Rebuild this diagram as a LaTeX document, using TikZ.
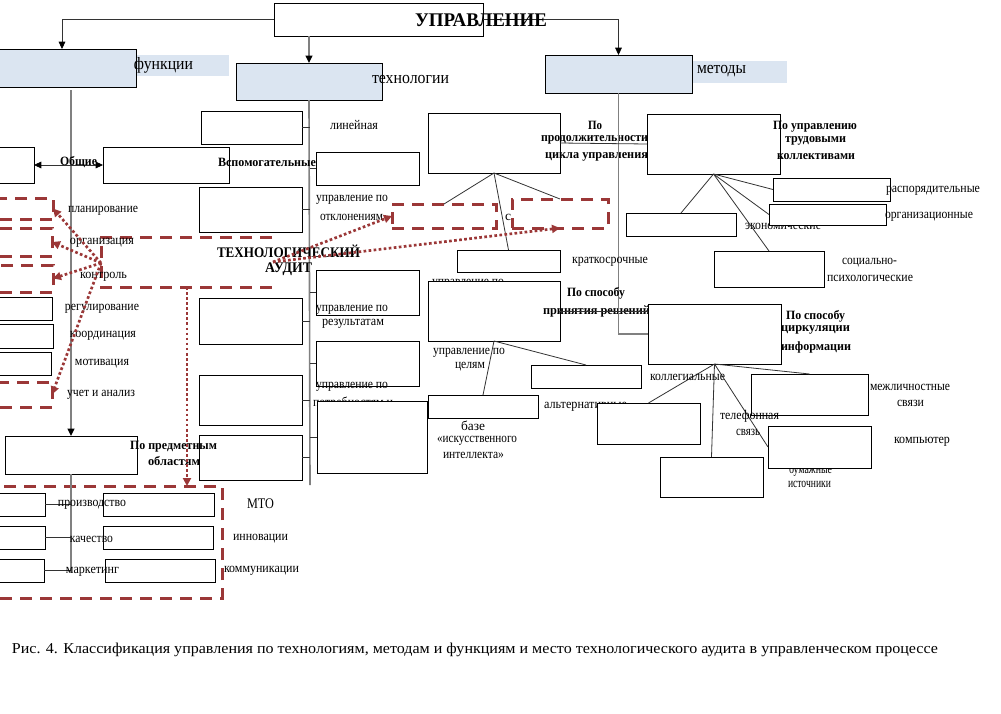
\documentclass[tikz,border=0pt]{standalone}
\usepackage{fontspec}
\setmainfont{Liberation Serif}
\usetikzlibrary{arrows.meta}
\newlength\pxu \setlength\pxu{0.75pt}
\newlength\tmpw
\definecolor{lblue}{RGB}{219,229,241}
\definecolor{dred}{RGB}{155,55,55}
\definecolor{trk}{RGB}{128,128,128}
\newcounter{tn}
% text: [opts]{x1}{x2}{y}{text}
\newcommand\tx[5][]{\setlength{\tmpw}{#3\pxu}\addtolength{\tmpw}{-#2\pxu}%
  \stepcounter{tn}\node[txt,#1] (t\number\value{tn}) at ({(#2+#3)/2},#4) {\resizebox{\tmpw}{\height}{#5}};}
% box: [opts]{name}{x1}{y1}{x2}{y2}
\newcommand\bx[6][]{\node[box,#1,minimum width={(#5-#3)*0.75pt},minimum height={(#6-#4)*0.75pt}] (#2) at ({(#3+#5)/2},{(#4+#6)/2}) {};}
\begin{document}
\begin{tikzpicture}[x=0.75pt,y=-0.75pt,
  box/.style={draw=black,line width=0.75pt,fill=white,inner sep=0pt,outer sep=0pt},
  bbox/.style={fill=lblue},
  dbox/.style={draw=dred,fill=none,line width=2.25pt,dash pattern=on 9pt off 6pt},
  dline/.style={draw=dred,line width=2.25pt,dash pattern=on 9pt off 6pt},
  dotar/.style={draw=dred,line width=2pt,dash pattern=on 2pt off 1.8pt,-{Triangle[length=6pt,width=6pt]}},
  txt/.style={inner sep=0pt,outer sep=0pt,font=\fontsize{10pt}{12pt}\selectfont},
  btxt/.style={font=\fontsize{9.5pt}{11pt}\selectfont\bfseries},
  ta/.style={font=\fontsize{11pt}{13pt}\selectfont\bfseries},
  big/.style={font=\fontsize{14.5pt}{16pt}\selectfont\bfseries},
  mid/.style={font=\fontsize{13pt}{15pt}\selectfont},
  mto/.style={font=\fontsize{11pt}{13pt}\selectfont},
  captxt/.style={font=\fontsize{11.3pt}{13pt}\selectfont},
  trunk/.style={draw=trk,line width=1.2pt},
  con/.style={draw=black!80,line width=0.6pt},
  arr/.style={-{Triangle[length=5.5pt,width=5pt,color=black]}}
]
\useasboundingbox (0,0) rectangle (1001,714);
\clip (0,0) rectangle (1001,714);
\fill[white] (0,0) rectangle (1001,714);

% ---------- boxes (first group, needed for connectors) ----------
\bx{upr}{274}{3}{483}{36}
\bx[bbox]{func}{-12}{49}{136}{87}
\bx[bbox]{tech}{236}{63}{382}{100}
\bx[bbox]{metody}{545}{55}{692}{93}
\fill[lblue] (136,55) rectangle (229,76);
\fill[lblue] (692,61) rectangle (787,83);
\draw[line width=0.75pt] (136,49) -- (136,87);
\draw[line width=0.75pt] (692,55) -- (692,93);

% ---------- connectors ----------
\draw[con,arr] (upr.west) -| (func.north);
\draw[trunk,arr] (upr.south -| tech.north) -- (tech.north);
\draw[con,arr] (upr.east) -| (metody.north);

\coordinate (ftop) at (71,90);
\coordinate (ttend) at (310,485);

% ---------- remaining boxes ----------
\bx{obsch}{-12}{147}{34}{183}
\bx{vspom}{103}{147}{229}{183}
\bx{f1}{-12}{297}{52}{320}
\bx{f2}{-12}{324}{53}{348}
\bx{f3}{-12}{352}{51}{375}
\bx{predm}{5}{436}{137}{474}
\bx{p1}{-12}{493}{45}{516}
\bx{p2}{-12}{526}{45}{549}
\bx{p3}{-12}{559}{44}{582}
\bx{p4}{103}{493}{214}{516}
\bx{p5}{103}{526}{213}{549}
\bx{p6}{105}{559}{215}{582}

\bx{T1}{201}{111}{302}{144}
\bx{T2}{199}{187}{302}{232}
\bx{T3}{199}{298}{302}{344}
\bx{T4}{199}{375}{302}{425}
\bx{T5}{199}{435}{302}{480}
\bx{T6}{316}{152}{419}{185}
\bx{T7}{316}{270}{419}{315}
\bx{T8}{316}{341}{419}{386}

\bx{dur}{428}{113}{560}{173}
\bx{kr}{457}{250}{560}{272}
\bx{alt}{531}{365}{641}{388}
\bx{eko}{626}{213}{736}{236}
\bx{rasp}{773}{178}{890}{201}
\bx{soc}{714}{251}{824}{287}
\bx{mezh}{751}{374}{868}{415}
\bx{bum}{660}{457}{763}{497}

% dashed rectangles
\bx[dbox]{R1}{-20}{198}{53}{219}
\bx[dbox]{R2}{-20}{228}{52}{256}
\bx[dbox]{R3}{-20}{265}{53}{292}
\bx[dbox]{R4}{-20}{382}{52}{407}
\bx[dbox]{R5}{392}{204}{496}{228}
\bx[dbox]{R6}{512}{199}{608}{228}
\bx[dbox]{BR}{-20}{486}{222}{598}
\draw[dline] (272,237) -- (101,237) -- (101,287) -- (272,287);
\coordinate (taL) at (101,263);
\coordinate (taR) at (273,262);
\coordinate (taB) at (187,287);

% hidden texts under later boxes
\tx{313}{393}{403}{потребностям и}
\tx{432}{504}{284}{управление по}
\tx{544}{627}{407}{альтернативные}
\tx{436}{506}{412}{решения на}
\tx{745}{821}{226}{экономические}
\tx{789}{832}{470}{бумажные}
\bx{dec}{428}{281}{560}{341}
\tx[btxt]{541}{648}{140}{продолжительности}
\tx[btxt]{545}{648}{157}{цикла управления}
\tx[btxt]{543}{650}{311}{принятия решений}

% covering boxes
\bx{T9}{317}{401}{427}{473}
\bx{ai}{428}{395}{538}{418}
\bx{kol}{597}{403}{700}{444}
\bx{org}{769}{204}{886}{225}
\bx{comp}{768}{426}{871}{468}
\bx{lab}{647}{114}{780}{174}
\bx{circ}{648}{304}{781}{364}

% ---------- trunks and ticks ----------
\draw[trunk,arr] (ftop) -- (predm.north);
\draw[con,{Triangle[length=5.5pt,width=5pt,color=black]}-{Triangle[length=5.5pt,width=5pt,color=black]}] (obsch.east) -- (vspom.west);
\draw[trunk] (tech.south) -- (ttend);
\foreach \b in {T1,T2,T3,T4,T5} \draw[con] (\b.east) -- (\b.east -| ttend);
\foreach \b in {T6,T7,T8,T9} \draw[con] (\b.west) -- (\b.west -| ttend);
\draw[trunk] (predm.south) -- ++(0,99);
\foreach \b in {p1,p2,p3} \draw[con] (\b.east) -- (\b.east -| predm.south);

\draw[trunk] (metody.south) |- (circ.west);
\draw[con] (dur.east) -- (lab.west);
\draw[con] (dec.east) -- (dec.east -| circ.west);
\draw[con] (dur.south) -- (R5.north);
\draw[con] (dur.south) -- (R6.north);
\draw[con] (dur.south) -- (kr.north);
\draw[con] (dec.south) -- (alt.north);
\draw[con] (dec.south) -- (ai.north);
\draw[con] (lab.south) -- (eko.north);
\draw[con] (lab.south) -- (rasp.west);
\draw[con] (lab.south) -- (org.west);
\draw[con] (lab.south) -- (soc.north);
\draw[con] (circ.south) -- (kol.north);
\draw[con] (circ.south) -- (bum.north);
\draw[con] (circ.south) -- (comp.west);
\draw[con] (circ.south) -- (mezh.north);

% ---------- texts ----------
\tx[big]{415}{547}{20}{УПРАВЛЕНИЕ}
\tx[mid]{134}{193}{65}{функции}
\tx[mid]{372}{449}{79}{технологии}
\tx[mid]{697}{746}{71}{методы}

\tx[btxt]{60}{97}{162}{Общие}
\tx[btxt]{218}{316}{162}{Вспомогательные}
\tx[btxt]{588}{602}{125}{По}
\tx[btxt]{773}{857}{127}{По управлению}
\tx[btxt]{785}{846}{141}{трудовыми}
\tx[btxt]{777}{855}{157}{коллективами}
\tx[btxt]{567}{625}{293}{По способу}
\tx[btxt]{786}{845}{316}{По способу}
\tx[btxt]{781}{850}{330}{циркуляции}
\tx[btxt]{781}{851}{347}{информации}
\tx[btxt]{130}{217}{447}{По предметным}
\tx[btxt]{148}{200}{461}{областям}
\tx[ta]{217}{360}{251}{ТЕХНОЛОГИЧЕСКИЙ}
\tx[ta]{265}{312}{269}{АУДИТ}

\tx{330}{378}{125}{линейная}
\tx{316}{388}{200}{управление по}
\tx{320}{383}{217}{отклонениям}
\tx{316}{388}{310}{управление по}
\tx{322}{384}{324}{результатам}
\tx{316}{388}{387}{управление по}
\tx{68}{138}{211}{планирование}
\tx{70}{134}{243}{организация}
\tx{80}{127}{277}{контроль}
\tx{65}{139}{309}{регулирование}
\tx{70}{136}{336}{координация}
\tx{75}{129}{364}{мотивация}
\tx{67}{135}{395}{учет и анализ}
\tx{58}{126}{505}{производство}
\tx{70}{113}{539}{качество}
\tx{66}{119}{572}{маркетинг}
\tx[mto]{247}{274}{504}{МТО}
\tx{233}{288}{539}{инновации}
\tx{224}{299}{571}{коммуникации}
\tx{572}{648}{262}{краткосрочные}
\tx{433}{505}{353}{управление по}
\tx{455}{485}{367}{целям}
\tx{461}{485}{426}{базе}
\tx{437}{517}{441}{«искусственного}
\tx{443}{504}{455}{интеллекта»}
\tx{505}{511}{217}{с}
\tx{886}{980}{191}{распорядительные}
\tx{885}{973}{217}{организационные}
\tx{842}{897}{263}{социально-}
\tx{827}{913}{278}{психологические}
\tx{650}{725}{377}{коллегиальные}
\tx{870}{950}{387}{межличностные}
\tx{897}{924}{403}{связи}
\tx{720}{779}{416}{телефонная}
\tx{736}{760}{432}{связь}
\tx{788}{831}{484}{источники}
\tx{894}{950}{442}{компьютер}
\tx[captxt]{12}{938}{650}{Рис. 4. Классификация управления по технологиям, методам и функциям и место технологического аудита в управленческом процессе}

% ---------- dotted arrows ----------
\draw[dotar] (taL) -- (R1.east);
\draw[dotar] (taL) -- (R2.east);
\draw[dotar] (taL) -- (R3.east);
\draw[dotar] (taL) -- (R4.east);
\draw[dotar] (taR) -- (R5.west);
\draw[dotar] (taR) -- (R6.south);
\draw[dotar] (taB) -- (taB |- BR.north);
\end{tikzpicture}
\end{document}
